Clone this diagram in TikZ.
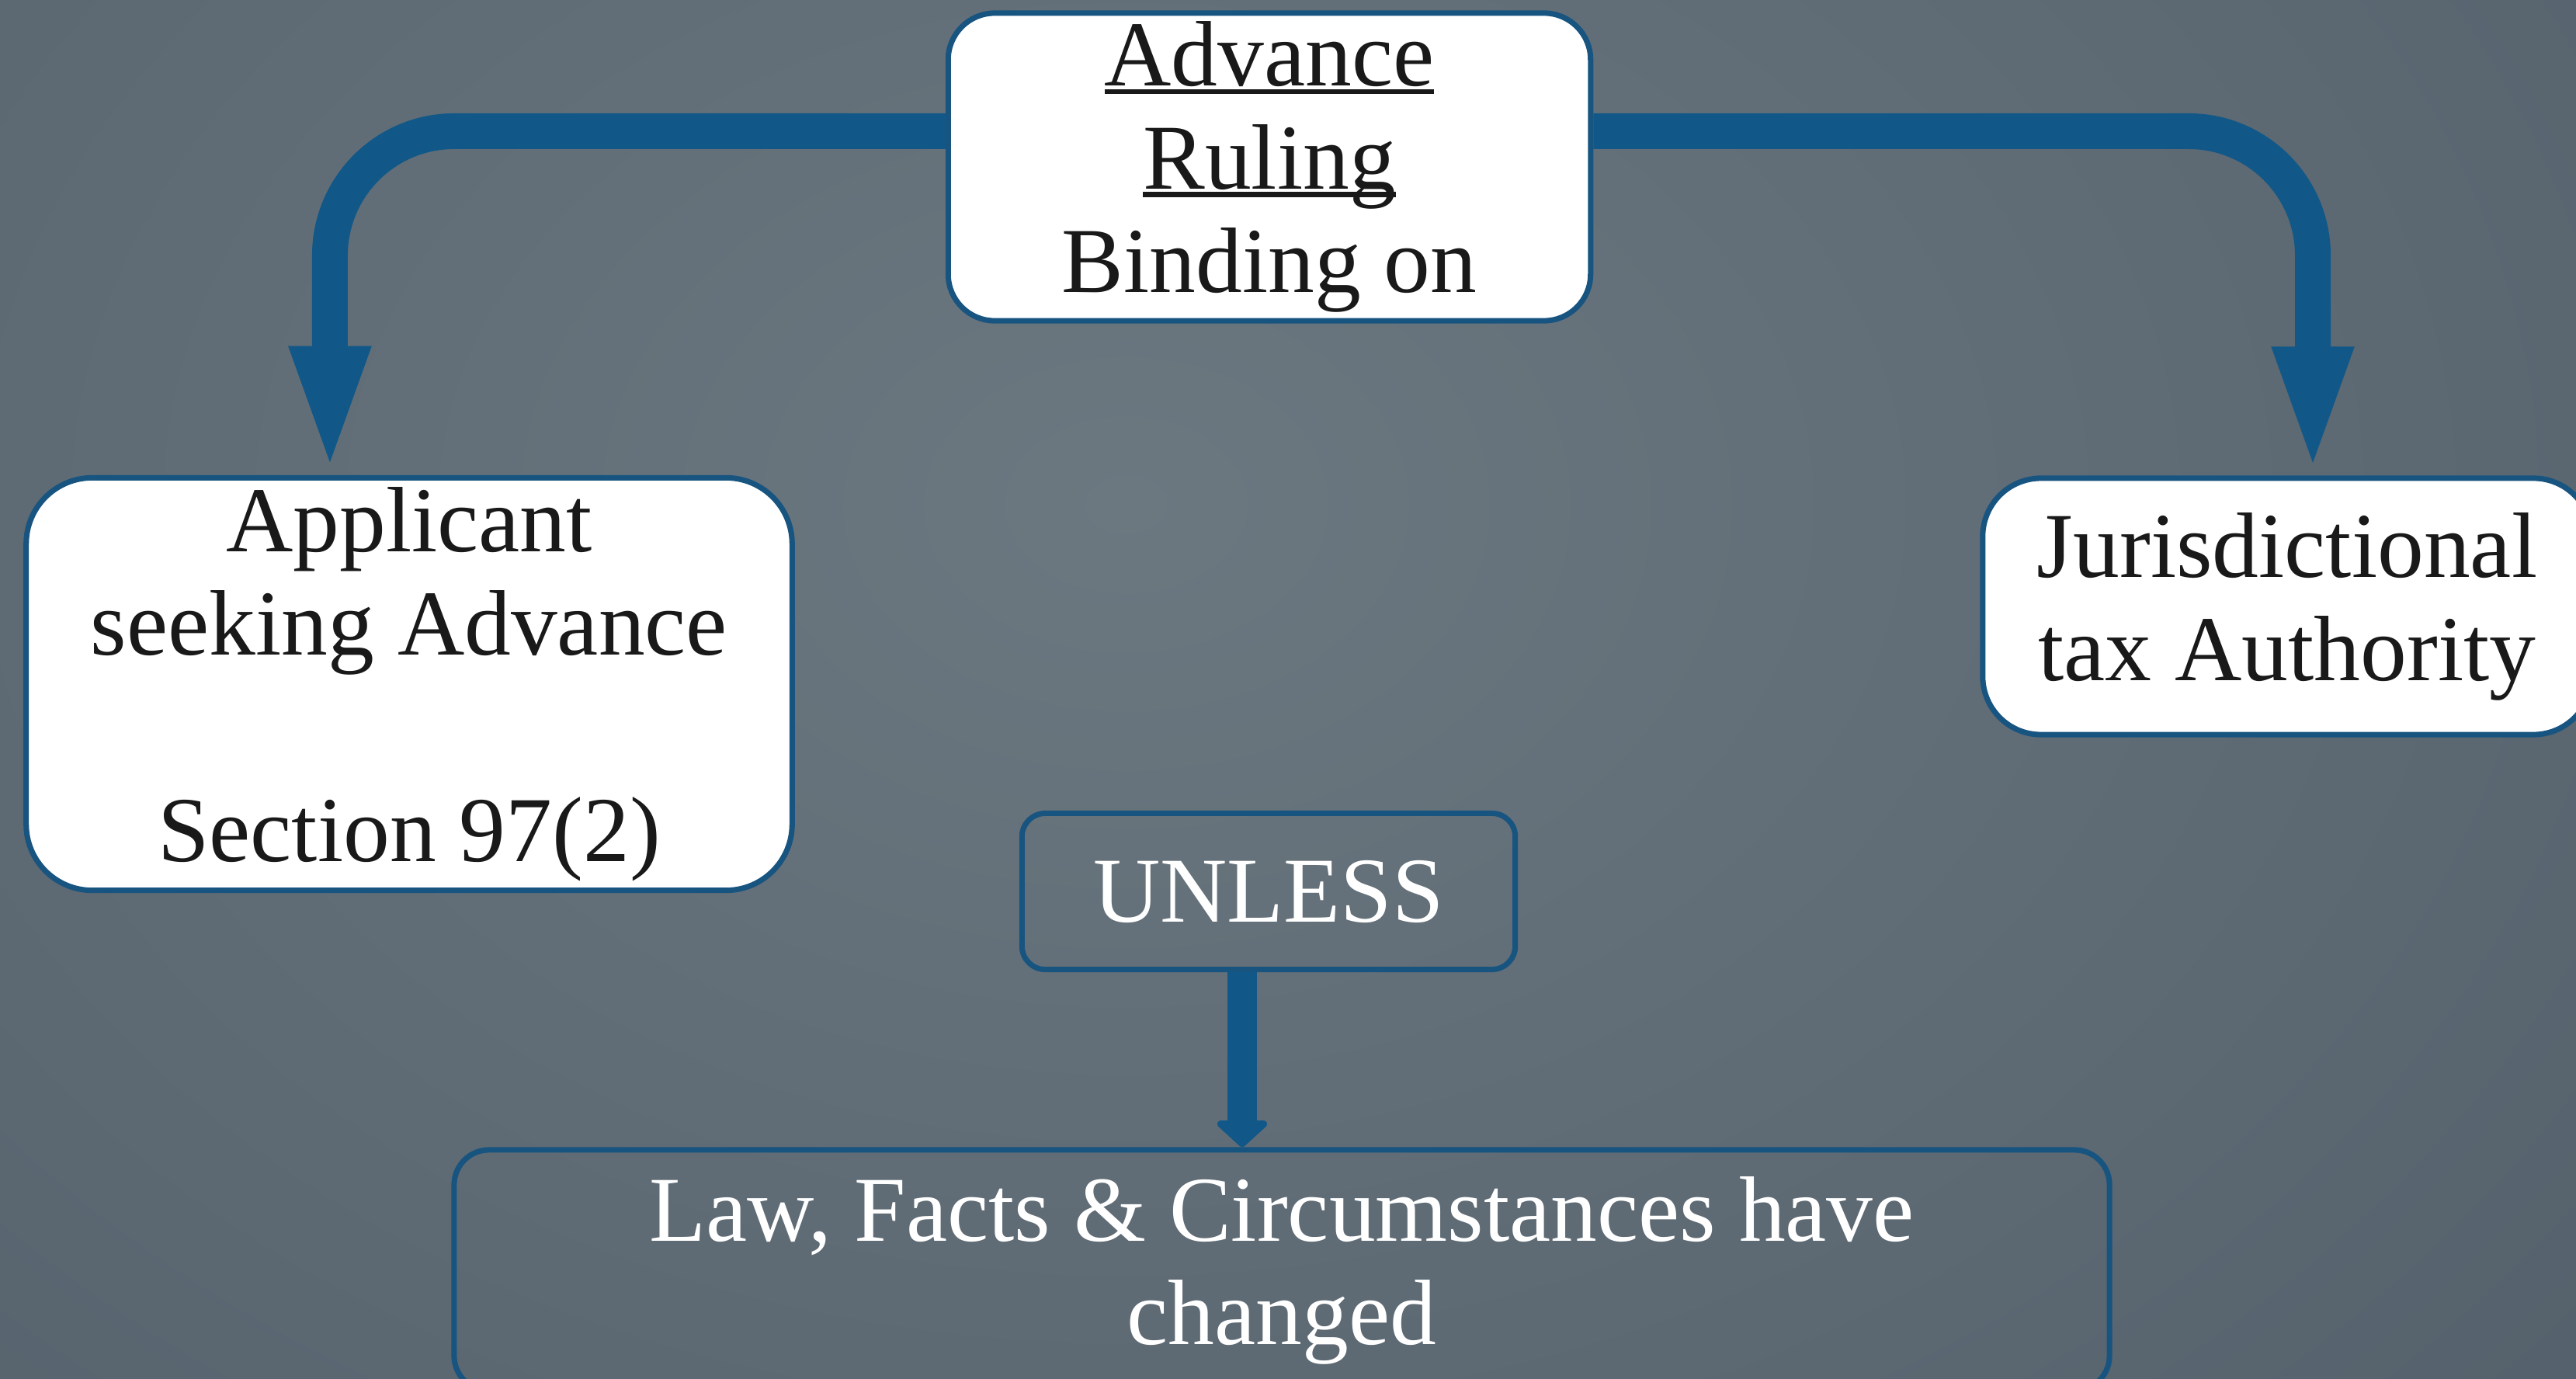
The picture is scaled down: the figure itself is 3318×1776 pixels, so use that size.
\documentclass[tikz,border=0pt]{standalone}
\usepackage{fontspec}
\setmainfont{Liberation Serif}
\usepackage{xcolor}
\usepackage{tikz}
\usetikzlibrary{arrows.meta}
\usetikzlibrary{backgrounds}

\definecolor{slidelight}{RGB}{108,120,128}
\definecolor{slidedark}{RGB}{58,70,84}
\definecolor{rulingblue}{RGB}{17,88,136}
\definecolor{boxedge}{RGB}{24,84,128}

\newcommand{\thickul}[1]{\setbox0\hbox{#1}\rlap{\rule[-3pt]{\wd0}{1.9pt}}\box0}

\begin{document}
\begin{tikzpicture}[x=0.01cm,y=-0.01cm,
		whitebox/.style={draw=boxedge,line width=2pt,fill=white,text=black!90,rounded corners=0.6cm,align=center,inner sep=0pt,font=\fontsize{34}{37.8}\selectfont},
		darkbox/.style={draw=boxedge,line width=2pt,text=white,rounded corners=0.3cm,align=center,inner sep=0pt,font=\fontsize{34}{37.8}\selectfont},
		bigarrow/.style={draw=rulingblue,line width=0.46cm,rounded corners=1.6cm,-{Triangle[length=1.66cm,width=0.92cm]}},
		smallarrow/.style={draw=rulingblue,line width=0.38cm,-{Triangle[length=0.36cm,width=0.76cm,round]}}]
				\useasboundingbox (0,0) rectangle (3318,1776);
				\begin{pgfonlayer}{background}
					\shade [inner color=slidelight,outer color=slidedark](-3750,-3150)rectangle(6650,4450);
				\end{pgfonlayer}
				% boxes
				\node [whitebox,minimum width=8.27cm,minimum height=3.96cm] (ruling) at (1635,215){\thickul{Advance}\\\thickul{Ruling}\\Binding on};
				\node [whitebox,minimum width=9.86cm,minimum height=5.31cm,rounded corners=0.85cm] (applicant) at (527,881){Applicant\\seeking Advance\\[37.8pt]Section 97(2)};
				\node [whitebox,minimum width=7.84cm,minimum height=3.3cm,rounded corners=0.75cm] (authority) at (2946,781){Jurisdictional\\tax Authority};
				\node [darkbox,minimum width=6.35cm,minimum height=2.01cm] (unless) at (1634,1148){UNLESS};
				\node [darkbox,minimum width=21.31cm,minimum height=3.1cm,rounded corners=0.45cm] (changed) at (1651,1636){Law, Facts \& Circumstances have\\changed};
				% arrows
				\draw [bigarrow] ([yshift=0.46cm]ruling.west) -| ([xshift=-1.02cm]applicant.north);
				\draw [bigarrow] ([yshift=0.46cm]ruling.east) -| ([xshift=0.33cm]authority.north);
				\draw [smallarrow] ([xshift=-0.34cm]unless.south) -- ([xshift=-0.34cm]unless.south |- changed.north);
			\end{tikzpicture}
\end{document}
